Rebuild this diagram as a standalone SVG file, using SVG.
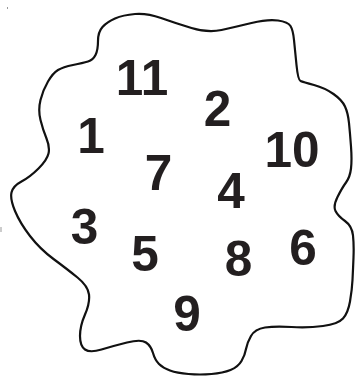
<svg xmlns="http://www.w3.org/2000/svg" width="355" height="376" viewBox="0 0 355 376">
<style>
.outline{fill:none;stroke:#111;stroke-width:2.2;stroke-linejoin:round}
.num{font-family:"Liberation Sans",Arial,sans-serif;font-weight:bold;font-size:49.5px;fill:#231f20;text-anchor:middle}
</style>
<rect width="355" height="376" fill="#fff"/>
<g id="connectors"></g>
<g id="blob">
<path class="outline" d="M98,41 Q98,32 102.5,27 Q107,22 115,18.5 Q123,15 135,14 Q147,13 161,18 Q175,23 191.5,28 Q208,33 221.5,30 Q235,27 251.5,23 Q268,19 278,20.5 Q288,22 290.5,26 Q293,30 294,40 Q295,50 296.5,65 Q298,80 300.5,81 Q303,82 314,85 Q325,88 333.5,94 Q342,100 345,106.5 Q348,113 349,123 Q350,133 351,146.5 Q352,160 351,168.5 Q350,177 346,182.5 Q342,188 337.5,197 Q333,206 335.5,211 Q338,216 345,221 Q352,226 353,235.5 Q354,245 353.5,257.5 Q353,270 352.5,280 Q352,290 350,301.5 Q348,313 343,318.5 Q338,324 323,326 Q308,328 291.5,327 Q275,326 265,327.5 Q255,329 251,336 Q247,343 246,349 Q245,355 241.5,361 Q238,367 230.5,370 Q223,373 211.5,374 Q200,375 188.5,374 Q177,373 170,370.5 Q163,368 159,364 Q155,360 153,353 Q151,346 146,342.5 Q141,339 127,342.5 Q113,346 101.5,349.5 Q90,353 85,349.5 Q80,346 80,336 Q80,326 85,314.5 Q90,303 89,294.5 Q88,286 77.5,277.5 Q67,269 53.5,259 Q40,249 30,236 Q20,223 15,211 Q10,199 11.5,192.5 Q13,186 21.5,181.5 Q30,177 38.5,168.5 Q47,160 48.5,153.5 Q50,147 46.5,138.5 Q43,130 40.5,120 Q38,110 40.5,100 Q43,90 48,81.5 Q53,73 58,70 Q63,67 73,65 Q83,63 88,61.5 Q93,60 95.5,55 Q98,50 98,41 Z"/>
</g>
<g id="n11"><text class="num" x="142" y="95">11</text></g>
<g id="n1"><text class="num" x="91" y="153">1</text></g>
<g id="n2"><text class="num" x="217.5" y="126">2</text></g>
<g id="n10"><text class="num" x="292" y="167">10</text></g>
<g id="n7"><text class="num" x="158.5" y="190">7</text></g>
<g id="n4"><text class="num" x="231" y="208">4</text></g>
<g id="n3"><text class="num" x="84.5" y="244">3</text></g>
<g id="n5"><text class="num" x="145" y="271">5</text></g>
<g id="n8"><text class="num" x="238.5" y="276">8</text></g>
<g id="n6"><text class="num" x="303" y="265">6</text></g>
<g id="n9"><text class="num" x="187" y="331">9</text></g>
<rect x="7" y="7" width="1" height="2" fill="#999"/>
<rect x="0" y="227" width="2" height="5" fill="#ccc"/>
</svg>
